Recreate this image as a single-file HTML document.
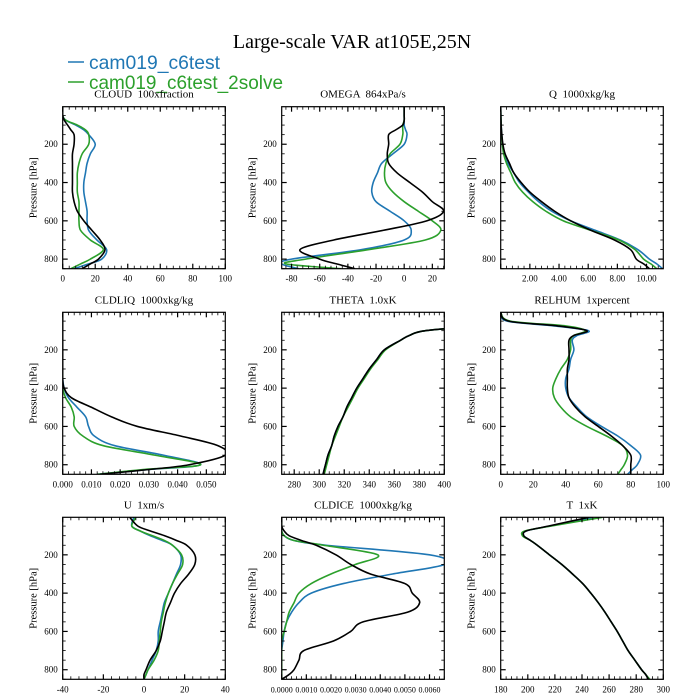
<!DOCTYPE html>
<html><head><meta charset="utf-8"><style>
body{margin:0;background:#fff;width:700px;height:700px;overflow:hidden}
svg{display:block}
text{font-family:"Liberation Serif",serif;fill:#000;white-space:pre}
</style></head><body>
<svg id="chart" width="700" height="700" viewBox="0 0 700 700" xmlns="http://www.w3.org/2000/svg">
<text x="352" y="48" font-size="20" text-anchor="middle">Large-scale VAR at105E,25N</text>
<g>
<line x1="68" y1="62" x2="84" y2="62" stroke="#1f77b4" stroke-width="1.5"/>
<text x="89" y="69" font-size="19.5" style="font-family:'Liberation Sans',sans-serif;fill:#1f77b4" textLength="131" lengthAdjust="spacingAndGlyphs">cam019_c6test</text>
<line x1="68" y1="82" x2="84" y2="82" stroke="#2ca02c" stroke-width="1.5"/>
<text x="89" y="89" font-size="19.5" style="font-family:'Liberation Sans',sans-serif;fill:#2ca02c" textLength="194" lengthAdjust="spacingAndGlyphs">cam019_c6test_2solve</text>
</g>
</svg>
<script>
const P=[4,50,75,100,125,150,200,250,300,350,400,450,500,550,600,650,700,750,800,825,850];
const cloudK=[0,0,1,3,5,7,7,6,6,6,6,6,7,9,13,18,23,26,22,17,12];
const cloudB=[0,0,2,8,13,16,20,17,15,14,13,13,14,15,15,16,21,27,24,16,7];
const cloudG=[0,0,2,9,14,16,16,12,10,9,9,9,10,10,10,11,17,25,17,11,5];
const omegaK=[0,0,0,-1,-6,-11,-11,-12,-11,-5,4,13,20,28,16,-15,-50,-74,-60,-48,-35];
const omegaB=[0,0,0,0,1,2,0,-8,-16,-19,-22,-23,-20,-10,0,5,0,-30,-80,-87,-75];
const omegaG=[0,0,0,-1,-1,-1,-3,-10,-13,-14,-13,-8,0,10,20,26,15,-25,-70,-84,-45];
const qK=[0,0.01,0.02,0.03,0.05,0.08,0.15,0.3,0.6,0.9,1.4,2.0,2.8,3.7,4.8,6.2,7.8,8.9,9.3,9.8,10.2];
const qB=[0,0.01,0.02,0.03,0.05,0.07,0.13,0.25,0.5,0.9,1.3,1.9,2.6,3.5,4.8,6.5,8.2,9.4,10.2,10.7,11.1];
const qG=[0,0.01,0.02,0.03,0.04,0.06,0.11,0.2,0.4,0.7,1.0,1.5,2.2,3.1,4.3,6.2,8.1,9.2,9.8,10.3,10.7];
const liqK=[0,0,0,0,0,0,0,0,0,0,0.0005,0.003,0.010,0.017,0.026,0.041,0.054,0.0566,0.044,0.030,0.013];
const liqB=[0,0,0,0,0,0,0,0,0,0,0.0005,0.002,0.005,0.008,0.009,0.011,0.018,0.035,0.048,0.030,0.012];
const liqG=[0,0,0,0,0,0,0,0,0,0,0,0.001,0.003,0.004,0.004,0.007,0.014,0.032,0.048,0.028,0.012];
const thK=[800,480,430,385,372,365,352,346,340,335,330,326,322,319,315,312,310,307,305,304,303];
const thB=[800,480,430,385,372,365,352,346,340,335,330,326,322,319,315,312,310,307,305,304,303];
const thG=[800,480,430,385,372,365,353,347,341,336,331,327,323,319,316,313,310,308,306,305,304];
const rhK=[0,5,35,53,45,42,42,42,41,41,41,42,46,52,60,68,75,80,80,80,80];
const rhB=[0,4,33,54,47,44,45,43,42,40,40,42,47,53,62,72,80,86,84,81,78];
const rhG=[0,6,40,52,45,43,43,41,37,34,32,33,37,43,53,65,75,78,76,74,72];
const uK=[-7,-3,3,10,16,21,25,25,22,18,15,13,11,10,9,8,6,3,1,0,0];
const uB=[-5,-6,-2,3,9,14,18,18,16,14,12,10,9,8,7,7,6,4,2,1,0];
const uG=[-4,-6,-2,4,10,14,18.5,19,16.5,14,12,10.5,9.5,8.5,8,7.5,7,5,2,1,0];
const iceK=[0,0,0.0001,0.0003,0.0008,0.0014,0.0022,0.0028,0.0036,0.0050,0.0053,0.0056,0.0051,0.0033,0.0028,0.0021,0.0009,0.0007,0.0005,0.0003,0];
const iceB=[0,0,0,0.0001,0.0005,0.0018,0.0060,0.0066,0.0045,0.0025,0.0012,0.0007,0.0004,0.0002,0.0001,0.00005,0,0,0,0,0];
const iceG=[0,0,0,0.0001,0.0005,0.0017,0.0039,0.0030,0.0020,0.0012,0.0007,0.0005,0.0003,0.0002,0.0001,0,0,0,0,0,0];
const tK=[245,215,199,197,202,207,216,225,233,240.5,246.5,252,257,261.5,266,270,274,279,284,287,289];
const tB=[248,216,199,197,202,207,216,225,233,240.5,246.5,252,257,261.5,266,270,274,279,284,287,289];
const tG=[255,217,198,196,202,207,216,225,233,240.5,246.5,252,257,261.5,266,270,274,279,284,287,290];
const titles=["CLOUD  100xfraction","OMEGA  864xPa/s","Q  1000xkg/kg","CLDLIQ  1000xkg/kg","THETA  1.0xK","RELHUM  1xpercent","U  1xm/s","CLDICE  1000xkg/kg","T  1xK"];
const xmin=[0,-87,0,0,270,0,-40,0,180];
const xmax=[100,28.5,11.15,0.0566,400,100,40,0.0066,300];
const xticks=[[0,20,40,60,80,100],[-80,-60,-40,-20,0,20],[2,4,6,8,10],[0,0.01,0.02,0.03,0.04,0.05],[280,300,320,340,360,380,400],[0,20,40,60,80,100],[-40,-20,0,20,40],[0,0.001,0.002,0.003,0.004,0.005,0.006],[180,200,220,240,260,280,300]];
const xdec=[0,0,2,3,0,0,0,4,0];
const series=[[cloudB,cloudG,cloudK],[omegaB,omegaG,omegaK],[qB,qG,qK],[liqB,liqG,liqK],[thB,thG,thK],[rhB,rhG,rhK],[uB,uG,uK],[iceB,iceG,iceK],[tB,tG,tK]];
const names=["cloud","omega","q","cldliq","theta","relhum","u","cldice","t"];
const colors=["#1f77b4","#2ca02c","#000"];
const snames=["c6test","c6test-2solve","reference"];
const colX=[62.7,281.7,500.7], rowY=[106.7,312.3,517.3], W=162.6, H=162;
const yticks=[200,400,600,800];
const PMIN=4,PMAX=850;
const svg=document.getElementById('chart');
const NS="http://www.w3.org/2000/svg";
function mk(tag,attrs,parent){const e=document.createElementNS(NS,tag);for(const k in attrs)e.setAttribute(k,attrs[k]);parent.appendChild(e);return e;}
function smooth(pts){let d="M"+pts[0][0].toFixed(2)+","+pts[0][1].toFixed(2);
 for(let i=0;i<pts.length-1;i++){const p0=pts[Math.max(0,i-1)],p1=pts[i],p2=pts[i+1],p3=pts[Math.min(pts.length-1,i+2)];
 const c1=[p1[0]+(p2[0]-p0[0])/6,p1[1]+(p2[1]-p0[1])/6],c2=[p2[0]-(p3[0]-p1[0])/6,p2[1]-(p3[1]-p1[1])/6];
 d+=" C"+c1[0].toFixed(2)+","+c1[1].toFixed(2)+" "+c2[0].toFixed(2)+","+c2[1].toFixed(2)+" "+p2[0].toFixed(2)+","+p2[1].toFixed(2);}
 return d;}
for(let k=0;k<9;k++){
 const x0=colX[k%3],y0=rowY[Math.floor(k/3)];
 const sx=v=>x0+(v-xmin[k])/(xmax[k]-xmin[k])*W;
 const sy=p=>y0+(p-PMIN)/(PMAX-PMIN)*H;
 const g=mk('g',{},svg);
 
 
 const t=mk('text',{x:x0+W/2,y:y0-9,'font-size':11,'text-anchor':'middle'},g);
 t.textContent=titles[k];
 
 
 const cp=mk('clipPath',{id:'clip'+k},g);
 mk('rect',{x:x0,y:y0,width:W,height:H},cp);
 const lg=mk('g',{'clip-path':'url(#clip'+k+')'},g);
 for(let s=0;s<3;s++){
  const pts=series[k][s].map((v,i)=>[sx(v),sy(P[i])]);
  const path=mk('path',{d:smooth(pts),fill:'none',stroke:colors[s],'stroke-width':1.6,'stroke-linejoin':'round'},lg);
  
  
 }
 const box=mk('rect',{x:x0,y:y0,width:W,height:H,fill:'none',stroke:'#000','stroke-width':1.2},g);
 
 
 for(let p=50;p<=850;p+=50){const y=sy(p);const maj=p%200===0;const L=maj?5:3;
  mk('line',{x1:x0,y1:y,x2:x0+L,y2:y,stroke:'#000','stroke-width':maj?1.2:0.8},g);
  mk('line',{x1:x0+W,y1:y,x2:x0+W-L,y2:y,stroke:'#000','stroke-width':maj?1.2:0.8},g);}
 yticks.forEach(p=>{const tt=mk('text',{x:x0-5,y:sy(p)+3,'font-size':9,'text-anchor':'end'},g);tt.textContent=p;
  
  });
 const yl=mk('text',{x:0,y:0,'font-size':10.5,'text-anchor':'middle',transform:'translate('+(x0-26)+','+(y0+H/2)+') rotate(-90)'},g);
 yl.textContent='Pressure [hPa]';
 
 
 const xt=xticks[k];const step=xt[1]-xt[0];const mstep=step/5;
 const start=Math.ceil((xmin[k]-1e-9)/mstep);
 for(let i=start;i*mstep<=xmax[k]+1e-9;i++){const v=i*mstep;const x=sx(v);const maj=Math.abs(Math.round(i/5)*5-i)<1e-6;const L=maj?5:3;
  mk('line',{x1:x,y1:y0+H,x2:x,y2:y0+H-L,stroke:'#000','stroke-width':maj?1.2:0.8},g);
  mk('line',{x1:x,y1:y0,x2:x,y2:y0+L,stroke:'#000','stroke-width':maj?1.2:0.8},g);}
 xt.forEach(v=>{const tt=mk('text',{x:sx(v),y:y0+H+13,'font-size':xdec[k]===4?8:9,'text-anchor':'middle'},g);tt.textContent=v.toFixed(xdec[k]);
  
  });
}
</script>
</body></html>
